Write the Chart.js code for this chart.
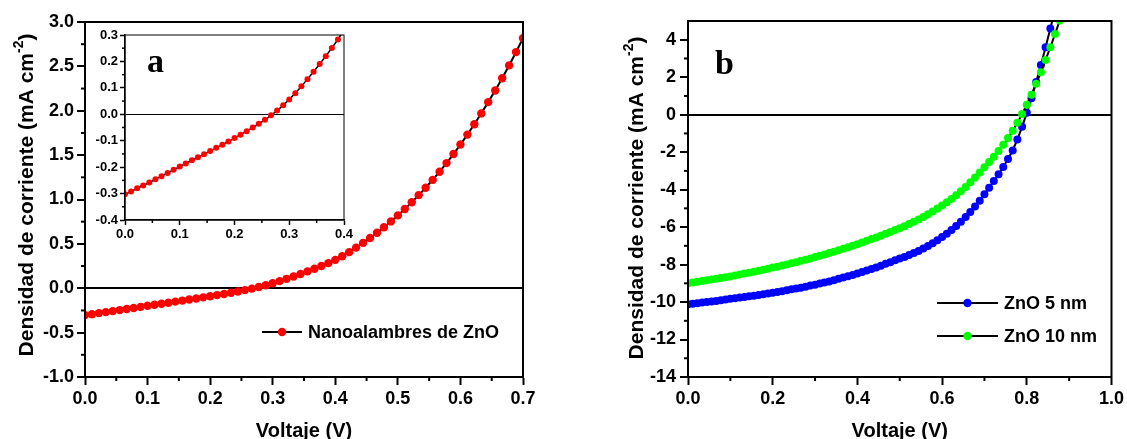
<!DOCTYPE html>
<html><head><meta charset="utf-8">
<script src="https://cdn.jsdelivr.net/npm/chart.js@4.4.0/dist/chart.umd.min.js"></script>
<style>
html,body{margin:0;padding:0;background:#fff;}
#wrap{position:relative;width:1127px;height:439px;overflow:hidden;background:#fff;}
canvas{position:absolute;display:block;}
</style></head><body>
<div id="wrap">
<canvas id="ca" width="560" height="439" style="left:0;top:0"></canvas>
<canvas id="ci" width="280" height="230" style="left:80px;top:20px"></canvas>
<canvas id="cb" width="567" height="439" style="left:560px;top:0"></canvas>
</div>
<script>
// ---------- DATA ----------
const voltA = [0.0000,0.0111,0.0222,0.0333,0.0444,0.0556,0.0667,0.0778,0.0889,0.1000,
0.1111,0.1222,0.1333,0.1444,0.1556,0.1667,0.1778,0.1889,0.2000,0.2111,
0.2222,0.2333,0.2444,0.2556,0.2667,0.2778,0.2889,0.3000,0.3111,0.3222,
0.3333,0.3444,0.3556,0.3667,0.3778,0.3889,0.4000,0.4111,0.4222,0.4333,
0.4444,0.4556,0.4667,0.4778,0.4889,0.5000,0.5111,0.5222,0.5333,0.5444,
0.5556,0.5667,0.5778,0.5889,0.6000,0.6111,0.6222,0.6333,0.6444,0.6556,
0.6667,0.6778,0.6889,0.7000];
const currNanowires = [-0.303,-0.292,-0.280,-0.269,-0.258,-0.246,-0.234,-0.222,-0.210,-0.198,
-0.186,-0.174,-0.163,-0.151,-0.139,-0.127,-0.115,-0.103,-0.090,-0.077,
-0.064,-0.050,-0.036,-0.021,-0.004,0.014,0.034,0.056,0.080,0.106,
0.133,0.161,0.190,0.220,0.251,0.283,0.320,0.361,0.407,0.458,
0.511,0.567,0.626,0.688,0.753,0.821,0.893,0.969,1.049,1.133,
1.221,1.313,1.410,1.512,1.619,1.731,1.848,1.970,2.097,2.229,
2.367,2.511,2.661,2.817];

const voltB = [0.0000,0.0111,0.0222,0.0333,0.0444,0.0556,0.0667,0.0778,0.0889,0.1000,
0.1111,0.1222,0.1333,0.1444,0.1556,0.1667,0.1778,0.1889,0.2000,0.2111,
0.2222,0.2333,0.2444,0.2556,0.2667,0.2778,0.2889,0.3000,0.3111,0.3222,
0.3333,0.3444,0.3556,0.3667,0.3778,0.3889,0.4000,0.4111,0.4222,0.4333,
0.4444,0.4556,0.4667,0.4778,0.4889,0.5000,0.5111,0.5222,0.5333,0.5444,
0.5556,0.5667,0.5778,0.5889,0.6000,0.6111,0.6222,0.6333,0.6444,0.6556,
0.6667,0.6778,0.6889,0.7000,0.7111,0.7222,0.7333,0.7444,0.7556,0.7667,
0.7778,0.7889,0.8000,0.8111,0.8222,0.8333,0.8444,0.8556,0.8667,0.8778,
0.8889];
const currZnO5 = [-10.12,-10.09,-10.06,-10.03,-10.00,-9.97,-9.94,-9.90,-9.87,-9.83,
-9.80,-9.76,-9.73,-9.69,-9.66,-9.62,-9.58,-9.54,-9.50,-9.46,
-9.42,-9.37,-9.32,-9.28,-9.23,-9.18,-9.12,-9.07,-9.01,-8.96,
-8.90,-8.83,-8.76,-8.69,-8.62,-8.55,-8.47,-8.39,-8.31,-8.23,
-8.15,-8.06,-7.96,-7.87,-7.77,-7.68,-7.59,-7.49,-7.38,-7.27,
-7.14,-7.01,-6.86,-6.70,-6.53,-6.35,-6.15,-5.94,-5.71,-5.46,
-5.19,-4.90,-4.59,-4.25,-3.90,-3.54,-3.18,-2.79,-2.37,-1.91,
-1.32,-0.65,0.10,0.88,1.75,2.65,3.60,4.60,5.60];
const currZnO10 = [-9.00,-8.96,-8.92,-8.88,-8.84,-8.80,-8.76,-8.72,-8.67,-8.63,
-8.58,-8.53,-8.48,-8.43,-8.38,-8.33,-8.28,-8.22,-8.16,-8.11,
-8.05,-7.99,-7.93,-7.87,-7.80,-7.74,-7.67,-7.60,-7.53,-7.46,
-7.38,-7.31,-7.23,-7.15,-7.07,-6.99,-6.91,-6.82,-6.73,-6.64,
-6.55,-6.46,-6.36,-6.26,-6.16,-6.06,-5.95,-5.83,-5.71,-5.59,
-5.46,-5.32,-5.17,-5.01,-4.85,-4.68,-4.50,-4.30,-4.09,-3.86,
-3.61,-3.35,-3.08,-2.81,-2.53,-2.24,-1.94,-1.61,-1.25,-0.86,
-0.43,0.03,0.53,1.07,1.65,2.27,2.92,3.60,4.30,5.03,
5.78];

const seriesLabels = ['Nanoalambres de ZnO', 'ZnO 5 nm', 'ZnO 10 nm'];
const xTitle = 'Voltaje (V)';
const yTitleParts = ['Densidad de corriente (mA cm', '-2', ')'];

// minor tick values
const minorXA = [0.05,0.15,0.25,0.35,0.45,0.55,0.65];
const minorYA = [-0.75,-0.25,0.25,0.75,1.25,1.75,2.25,2.75];
const minorXI = [0.05,0.15,0.25,0.35];
const minorYI = [-0.35,-0.25,-0.15,-0.05,0.05,0.15,0.25];
const minorXB = [0.1,0.3,0.5,0.7,0.9];
const minorYB = [-13,-11,-9,-7,-5,-3,-1,1,3];

// ---------- HELPERS ----------
const FAM = "'Liberation Sans', Arial, sans-serif";
Chart.defaults.font.family = FAM;
Chart.defaults.color = '#000';

function pairs(xs, ys){ const n=Math.min(xs.length, ys.length); const o=[]; for(let i=0;i<n;i++) o.push({x:xs[i], y:ys[i]}); return o; }
const fmt1 = v => Math.abs(v) < 1e-9 ? '0.0' : Number(v).toFixed(1);
const fmtInt = v => String(Math.round(v));

const annot = {
  id: 'annot',
  beforeDraw(chart, args, o){
    if (o.fillArea){
      const a = chart.chartArea, ctx = chart.ctx;
      ctx.save(); ctx.fillStyle = '#fff';
      ctx.fillRect(a.left, a.top, a.right-a.left, a.bottom-a.top); ctx.restore();
    }
  },
  afterDraw(chart, args, o){
    const ctx = chart.ctx, a = chart.chartArea;
    ctx.save();
    ctx.strokeStyle = '#000'; ctx.fillStyle = '#000';
    ctx.lineWidth = o.frameWidth || 2;
    ctx.strokeRect(a.left, a.top, a.right-a.left, a.bottom-a.top);
    ctx.lineWidth = o.minorWidth || 2;
    const xs = chart.scales.x, ys = chart.scales.y;
    (o.minorX||[]).forEach(v => { const p = xs.getPixelForValue(v); ctx.beginPath(); ctx.moveTo(p, a.bottom); ctx.lineTo(p, a.bottom + o.minorLen); ctx.stroke(); });
    (o.minorY||[]).forEach(v => { const p = ys.getPixelForValue(v); ctx.beginPath(); ctx.moveTo(a.left, p); ctx.lineTo(a.left - o.minorLen, p); ctx.stroke(); });
    if (o.xTitle){
      ctx.font = 'bold 20px ' + FAM; ctx.textAlign = 'center'; ctx.textBaseline = 'middle';
      ctx.fillText(o.xTitle, (a.left+a.right)/2, o.xTitleY);
    }
    if (o.yTitle){
      const [m, s, e] = o.yTitle;
      const big = 'bold 21px ' + FAM, small = 'bold 14px ' + FAM;
      ctx.font = big; const w1 = ctx.measureText(m).width, w3 = ctx.measureText(e).width;
      ctx.font = small; const w2 = ctx.measureText(s).width;
      const tot = w1 + w2 + w3;
      ctx.translate(o.yTitleX, o.yTitleCY);
      ctx.rotate(-Math.PI/2);
      ctx.textAlign = 'left'; ctx.textBaseline = 'middle';
      const x0 = -tot/2;
      ctx.font = big; ctx.fillText(m, x0, 0);
      ctx.font = small; ctx.fillText(s, x0 + w1, -8);
      ctx.font = big; ctx.fillText(e, x0 + w1 + w2, 0);
      ctx.setTransform(1,0,0,1,0,0);
    }
    if (o.letter){
      ctx.font = "bold 34px 'Liberation Serif', 'Times New Roman', serif";
      ctx.textAlign = 'left'; ctx.textBaseline = 'alphabetic';
      ctx.fillText(o.letter.text, o.letter.x, o.letter.y);
    }
    (o.legend||[]).forEach(it => {
      ctx.strokeStyle = '#000'; ctx.lineWidth = 2;
      ctx.beginPath(); ctx.moveTo(it.x, it.y); ctx.lineTo(it.x + it.len, it.y); ctx.stroke();
      ctx.fillStyle = it.color; ctx.beginPath(); ctx.arc(it.x + it.len/2, it.y, 4.2, 0, Math.PI*2); ctx.fill();
      ctx.fillStyle = '#000'; ctx.font = 'bold 18px ' + FAM; ctx.textAlign = 'left'; ctx.textBaseline = 'middle';
      ctx.fillText(it.label, it.x + it.len + 6, it.y + 1);
    });
    ctx.restore();
  }
};

function xAxis(min, max, step, size, tickLen, width, h, pad){
  return { type:'linear', min, max,
    ticks:{ stepSize:step, autoSkip:false, maxRotation:0, color:'#000', font:{size, weight:'bold'}, padding:pad, callback: fmt1 },
    grid:{ drawOnChartArea:false, drawTicks:true, tickLength:tickLen, tickWidth:width, tickColor:'#000' },
    border:{ display:true, color:'#000', width },
    afterFit(s){ s.height = h; } };
}
function yAxis(min, max, step, size, tickLen, width, w, pad, cb, zeroW){
  return { type:'linear', min, max,
    ticks:{ stepSize:step, includeBounds:false, autoSkip:false, color:'#000', font:{size, weight:'bold'}, padding:pad, callback: cb },
    grid:{ drawOnChartArea:true, drawTicks:true, tickLength:tickLen, tickWidth:width, tickColor:'#000',
      color: c => (c.tick && Math.abs(c.tick.value) < 1e-9) ? '#000' : 'rgba(0,0,0,0)', lineWidth: zeroW },
    border:{ display:true, color:'#000', width },
    afterFit(s){ s.width = w; } };
}

// ---------- CHART A ----------
new Chart(document.getElementById('ca'), {
  type:'scatter',
  data:{ datasets:[{ label: seriesLabels[0], data: pairs(voltA, currNanowires), showLine:true,
    borderColor:'#000', borderWidth:2, pointRadius:4.2, pointBorderWidth:0,
    pointBackgroundColor:'#ff0000', pointHoverRadius:4.2 }] },
  options:{ responsive:false, animation:false, events:[],
    layout:{ padding:{ top:22, right:37, left:0, bottom:0 } },
    scales:{ x: xAxis(0, 0.7, 0.1, 18, 8, 2, 62, 3), y: yAxis(-1, 3, 0.5, 18, 8, 2, 85, 3, fmt1, 2) },
    plugins:{ legend:{display:false}, tooltip:{enabled:false},
      annot:{ frameWidth:2, minorWidth:2, minorLen:4, minorX:minorXA, minorY:minorYA,
        xTitle, xTitleY:431, yTitle:yTitleParts, yTitleX:27, yTitleCY:195,
        legend:[{label:seriesLabels[0], color:'#ff0000', x:262, y:332, len:40}] } } },
  plugins:[annot]
});

// ---------- INSET ----------
new Chart(document.getElementById('ci'), {
  type:'scatter',
  data:{ datasets:[{ data: pairs(voltA, currNanowires), showLine:true,
    borderColor:'#000', borderWidth:1.5, pointRadius:3, pointBorderWidth:0,
    pointBackgroundColor:'#ff0000', pointHoverRadius:3 }] },
  options:{ responsive:false, animation:false, events:[],
    layout:{ padding:{ top:15, right:16, left:0, bottom:0 } },
    scales:{ x: xAxis(0, 0.4, 0.1, 13, 5, 1.5, 30, 2), y: yAxis(-0.4, 0.3, 0.1, 13, 5, 1.5, 45, 2, fmt1, 1) },
    plugins:{ legend:{display:false}, tooltip:{enabled:false},
      annot:{ fillArea:true, frameWidth:1, minorWidth:1.5, minorLen:3, minorX:minorXI, minorY:minorYI,
        letter:{text:'a', x:67, y:52} } } },
  plugins:[annot]
});

// ---------- CHART B ----------
new Chart(document.getElementById('cb'), {
  type:'scatter',
  data:{ datasets:[
    { label: seriesLabels[2], data: pairs(voltB, currZnO10), showLine:true,
      borderColor:'#000', borderWidth:2, pointRadius:4, pointBorderWidth:0,
      pointBackgroundColor:'#00ff00', pointHoverRadius:4 },
    { label: seriesLabels[1], data: pairs(voltB, currZnO5), showLine:true,
      borderColor:'#000', borderWidth:2, pointRadius:4, pointBorderWidth:0,
      pointBackgroundColor:'#0000ff', pointHoverRadius:4 }
  ] },
  options:{ responsive:false, animation:false, events:[],
    layout:{ padding:{ top:21, right:14, left:0, bottom:0 } },
    scales:{ x: xAxis(0, 1, 0.2, 18, 8, 2, 62, 3), y: yAxis(-14, 5, 2, 18, 8, 2, 128, 4, fmtInt, 2) },
    plugins:{ legend:{display:false}, tooltip:{enabled:false},
      annot:{ frameWidth:2, minorWidth:2, minorLen:4, minorX:minorXB, minorY:minorYB,
        xTitle, xTitleY:431, yTitle:yTitleParts, yTitleX:77, yTitleCY:198,
        letter:{text:'b', x:155, y:74},
        legend:[{label:seriesLabels[1], color:'#0000ff', x:377, y:303, len:61},
                {label:seriesLabels[2], color:'#00ff00', x:377, y:336, len:61}] } } },
  plugins:[annot]
});
</script>
</body></html>
